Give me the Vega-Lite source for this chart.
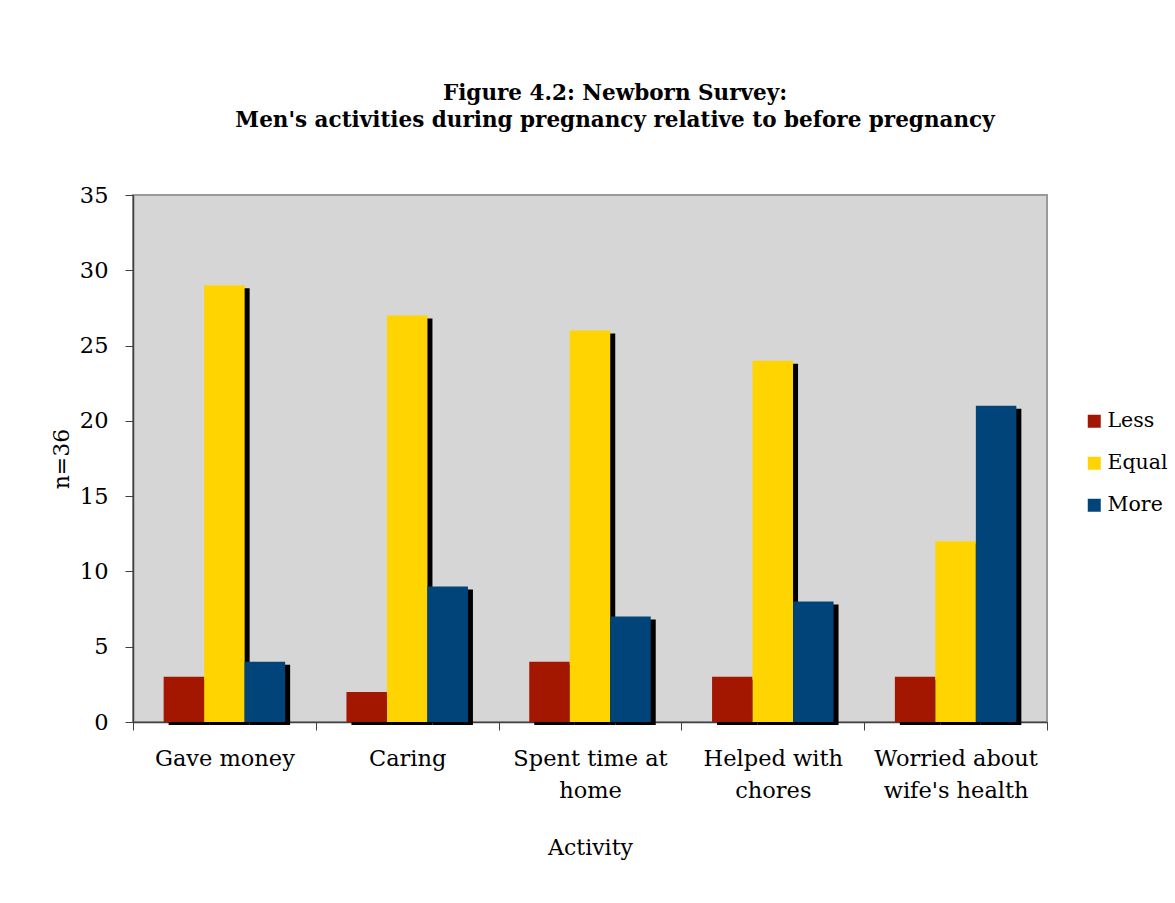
{
  "$schema": "https://vega.github.io/schema/vega-lite/v6.json",
  "autosize": {"type": "none"},
  "width": 914,
  "height": 527,
  "padding": {"left": 133, "top": 195, "right": 128, "bottom": 181},
  "background": "white",
  "config": {
    "font": "DejaVu Serif",
    "view": {"fill": "#d6d6d6", "stroke": "#9a9a9a", "strokeWidth": 2}
  },
  "title": {
    "text": ["Figure 4.2: Newborn Survey:", "Men's activities during pregnancy relative to before pregnancy"],
    "font": "DejaVu Serif",
    "fontSize": 21.5,
    "fontWeight": "bold",
    "color": "#000000",
    "anchor": "middle",
    "dx": 25,
    "offset": 53,
    "lineHeight": 27
  },
  "data": {
    "values": [
      {"activity": "Gave money", "change": "Less", "count": 3},
      {"activity": "Gave money", "change": "Equal", "count": 29},
      {"activity": "Gave money", "change": "More", "count": 4},
      {"activity": "Caring", "change": "Less", "count": 2},
      {"activity": "Caring", "change": "Equal", "count": 27},
      {"activity": "Caring", "change": "More", "count": 9},
      {"activity": "Spent time at home", "change": "Less", "count": 4},
      {"activity": "Spent time at home", "change": "Equal", "count": 26},
      {"activity": "Spent time at home", "change": "More", "count": 7},
      {"activity": "Helped with chores", "change": "Less", "count": 3},
      {"activity": "Helped with chores", "change": "Equal", "count": 24},
      {"activity": "Helped with chores", "change": "More", "count": 8},
      {"activity": "Worried about wife's health", "change": "Less", "count": 3},
      {"activity": "Worried about wife's health", "change": "Equal", "count": 12},
      {"activity": "Worried about wife's health", "change": "More", "count": 21}
    ]
  },
  "encoding": {
    "x": {
      "field": "activity",
      "type": "nominal",
      "sort": null,
      "scale": {"paddingInner": 0, "paddingOuter": 0},
      "axis": {
        "title": "Activity",
        "titleFont": "DejaVu Serif",
        "titleFontSize": 22,
        "titleFontWeight": "normal",
        "titleColor": "#000000",
        "titlePadding": 36,
        "labelAngle": 0,
        "labelFont": "DejaVu Serif",
        "labelFontSize": 22.5,
        "labelColor": "#000000",
        "labelPadding": 17,
        "labelLineHeight": 32,
        "labelExpr": "datum.value == 'Spent time at home' ? ['Spent time at', 'home'] : datum.value == 'Helped with chores' ? ['Helped with', 'chores'] : datum.value == \"Worried about wife's health\" ? ['Worried about', \"wife's health\"] : datum.value",
        "tickBand": "extent",
        "tickSize": 8,
        "tickColor": "#404040",
        "domainColor": "#404040",
        "domainWidth": 1.5
      }
    },
    "y": {
      "field": "count",
      "type": "quantitative",
      "scale": {"domain": [0, 35]},
      "axis": {
        "title": "n=36",
        "titleFont": "DejaVu Serif",
        "titleFontSize": 22,
        "titleFontWeight": "normal",
        "titleColor": "#000000",
        "titlePadding": 6,
        "values": [0, 5, 10, 15, 20, 25, 30, 35],
        "grid": false,
        "labelFont": "DejaVu Serif",
        "labelFontSize": 22.5,
        "labelColor": "#000000",
        "labelPadding": 17,
        "tickSize": 8,
        "tickColor": "#404040",
        "domainColor": "#404040",
        "domainWidth": 1.5
      }
    }
  },
  "layer": [
    {
      "mark": {"type": "bar", "color": "#000000", "yOffset": 3, "y2Offset": 3},
      "encoding": {
        "xOffset": {
          "field": "change",
          "type": "nominal",
          "sort": ["Less", "Equal", "More"],
          "scale": {"paddingInner": 0, "paddingOuter": 0.757, "range": [5, 187.8]}
        }
      }
    },
    {
      "mark": {"type": "bar"},
      "encoding": {
        "xOffset": {
          "field": "change",
          "type": "nominal",
          "sort": ["Less", "Equal", "More"],
          "scale": {"paddingInner": 0, "paddingOuter": 0.757}
        },
        "color": {
          "field": "change",
          "type": "nominal",
          "sort": ["Less", "Equal", "More"],
          "scale": {"domain": ["Less", "Equal", "More"], "range": ["#a31600", "#ffd400", "#00447a"]},
          "legend": {
            "title": null,
            "orient": "none",
            "legendX": 951,
            "legendY": 216,
            "symbolType": "square",
            "symbolSize": 169,
            "symbolStrokeWidth": 0,
            "labelFont": "DejaVu Serif",
            "labelFontSize": 20.5,
            "labelColor": "#000000",
            "labelOffset": 3,
            "rowPadding": 21
          }
        }
      }
    }
  ],
  "resolve": {"scale": {"xOffset": "independent"}}
}
